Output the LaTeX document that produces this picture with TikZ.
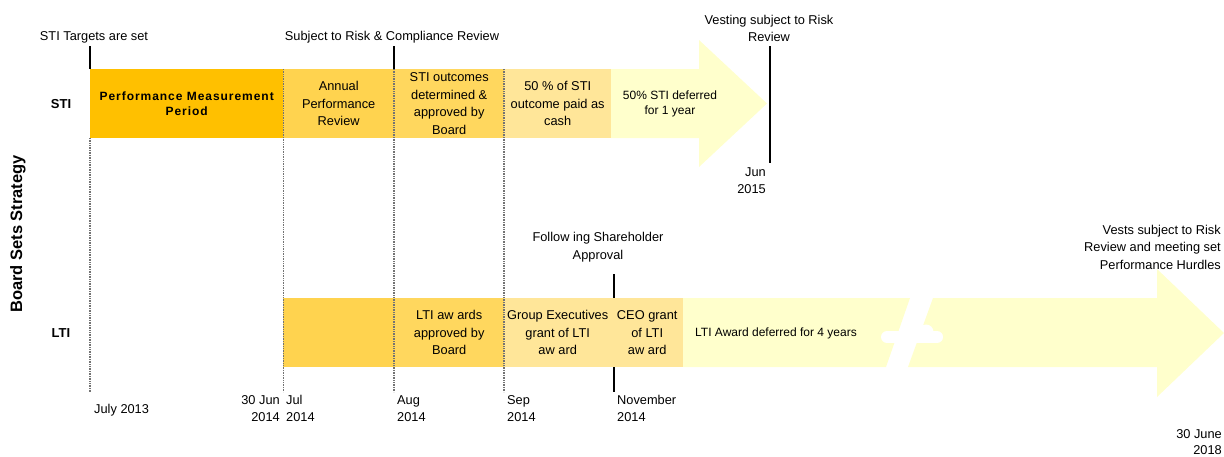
\documentclass[tikz,border=0pt]{standalone}
\usepackage{fontspec}
\setmainfont{Liberation Sans}
\definecolor{pmp}{HTML}{FFC000}
\definecolor{ann}{HTML}{FFD34F}
\definecolor{out}{HTML}{FFD75E}
\definecolor{cash}{HTML}{FFE699}
\definecolor{arr}{HTML}{FFFFCC}
\begin{document}
\begin{tikzpicture}[x=1pt,y=-1pt,
  box/.style={rectangle, inner sep=0pt, anchor=north west, minimum height=69pt, align=center, font=\fontsize{12.8}{17.5}\selectfont},
  lbl/.style={inner sep=0pt, align=center, font=\fontsize{12.8}{17.5}\selectfont},
  small/.style={inner sep=0pt, align=center, font=\fontsize{12}{15}\selectfont},
  tick/.style={black, line width=1.6pt},
  dotline/.style={black!55, line width=1.5pt, dash pattern=on 1pt off 0.7pt}]
\useasboundingbox (0,0) rectangle (1224,456);

% dotted grid lines behind
\draw[dotline] (90,138) -- (90,392);

% STI bar
\fill[arr] (611,69) -- (699,69) -- (699,40) -- (767,103.5) -- (699,167) -- (699,138) -- (611,138) -- cycle;
\node[box, fill=pmp, minimum width=193pt, font=\bfseries\fontsize{12}{15.5}\selectfont\addfontfeatures{LetterSpace=8}] (pmp) at (90,69) {Performance Measurement\\Period};
\node[box, fill=ann, minimum width=111pt] (apr) at (283,69) {Annual\\Performance\\Review};
\node[box, fill=out, minimum width=110pt] (sto) at (394,69) {STI outcomes\\determined \&\\approved by\\Board};
\node[box, fill=cash, minimum width=107pt] (cash) at (504,69) {50 \% of STI\\outcome paid as\\cash};
\node[small] (def1) at (670,103.5) {50\% STI deferred\\for 1 year};

% LTI bar
\fill[arr] (683,298) -- (910,298) -- (886,367) -- (683,367) -- cycle;
\fill[arr] (933,298) -- (1157,298) -- (1157,269) -- (1224,333) -- (1157,397) -- (1157,367) -- (908,367) -- cycle;
\draw[white, line width=12pt, line cap=round] (887,337) -- (937,337);
\fill[white] (926,332) circle (7.5pt);
\node[box, fill=ann, minimum width=111pt] (l1) at (283,298) {};
\node[box, fill=out, minimum width=110pt] (l2) at (394,298) {LTI aw ards\\approved by\\Board};
\node[box, fill=cash, minimum width=107pt] (l3) at (504,298) {Group Executives\\grant of LTI\\aw ard};
\node[box, fill=cash, minimum width=72pt] (l4) at (611,298) {CEO grant\\of LTI\\aw ard};
\node[small, anchor=west] (def4) at (695,333) {LTI Award deferred for 4 years};

% dotted lines on top
\draw[dotline] (283.5,69) -- (283.5,392);
\draw[dotline] (394,69) -- (394,392);
\draw[dotline] (504,69) -- (504,392);

% solid ticks
\draw[tick] (90,46) -- (90,69);
\draw[tick] (394,46) -- (394,69);
\draw[tick] (770,46) -- (770,163);
\draw[tick] (614,274) -- (614,298);
\draw[tick] (614,367) -- (614,392);

% labels
\node[lbl] (t1) at (94,37) {STI Targets are set};
\node[lbl] (t2) at (392,37) {Subject to Risk \& Compliance Review};
\node[lbl] (t3) at (769,28.5) {Vesting subject to Risk\\Review};
\node[lbl, align=right, anchor=east] (t4) at (766,180.5) {Jun\\2015};
\node[lbl] (t5) at (598,247) {Follow ing Shareholder\\Approval};
\node[lbl, align=right, anchor=east] (t6) at (1221,247) {Vests subject to Risk\\Review and meeting set\\Performance Hurdles};
\node[lbl, align=right, anchor=east, font=\fontsize{12.8}{16}\selectfont] (t7) at (1222,442) {30 June\\2018};

\node[inner sep=0pt, font=\bfseries\fontsize{13}{15}\selectfont] (sti) at (61,104) {STI};
\node[inner sep=0pt, font=\bfseries\fontsize{13}{15}\selectfont] (lti) at (61,333) {LTI};
\node[inner sep=0pt, rotate=90, font=\bfseries\fontsize{16.5}{18}\selectfont] (bss) at (18,234) {Board Sets Strategy};

% dates
\node[lbl, anchor=west] (d0) at (94,410) {July 2013};
\node[lbl, align=right, anchor=east] (d1) at (280,408.5) {30 Jun\\2014};
\node[lbl, align=left, anchor=west] (d2) at (286,408.5) {Jul\\2014};
\node[lbl, align=left, anchor=west] (d3) at (397,408.5) {Aug\\2014};
\node[lbl, align=left, anchor=west] (d4) at (507,408.5) {Sep\\2014};
\node[lbl, align=left, anchor=west] (d5) at (617,408.5) {November\\2014};
\end{tikzpicture}
\end{document}
